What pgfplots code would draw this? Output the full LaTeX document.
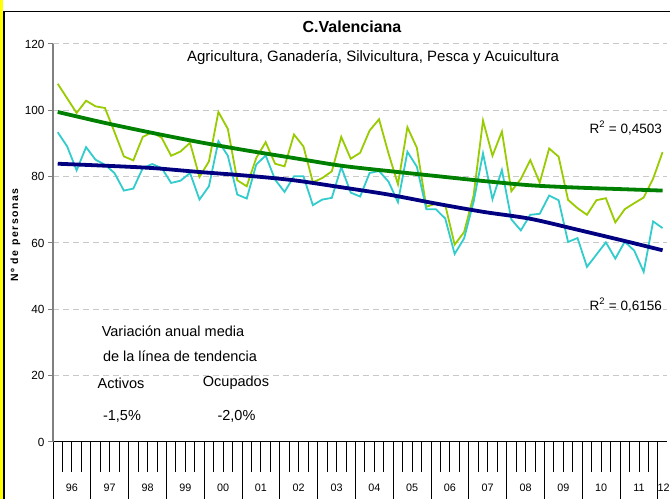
\documentclass[border=0pt]{standalone}
\usepackage{fontspec}
\setmainfont{Liberation Sans}
\usepackage{pgfplots}
\usepackage{pgfplotstable}
\pgfplotsset{compat=1.18}
\definecolor{activos}{RGB}{153,204,0}
\definecolor{ocupados}{RGB}{51,204,204}
\definecolor{trendA}{RGB}{0,128,0}
\definecolor{trendO}{RGB}{0,0,128}
\definecolor{gridc}{RGB}{200,200,200}
\definecolor{frameY}{RGB}{255,255,0}

\pgfplotstableread{
i a o
0 108.0 93.4
1 103.6 89.1
2 99.2 81.9
3 102.9 88.9
4 101.2 85.1
5 100.7 83.6
6 93.5 81.1
7 86.1 75.8
8 84.9 76.4
9 92.0 82.6
10 93.4 83.8
11 91.7 82.6
12 86.3 78.1
13 87.6 78.8
14 90.2 81.1
15 79.9 73.1
16 84.6 77.1
17 99.5 90.7
18 94.4 86.3
19 78.9 74.6
20 77.1 73.4
21 85.6 83.6
22 90.4 86.4
23 83.9 79.1
24 83.1 75.4
25 92.7 80.1
26 89.1 80.1
27 78.3 71.4
28 79.6 73.1
29 81.6 73.6
30 92.0 82.9
31 85.4 75.2
32 87.2 74.0
33 93.9 81.1
34 97.3 81.7
35 87.0 78.5
36 77.7 72.3
37 94.9 87.5
38 88.7 83.0
39 70.9 70.2
40 71.9 70.2
41 71.5 67.4
42 59.5 56.7
43 63.3 61.4
44 74.3 72.4
45 96.9 87.0
46 86.3 73.2
47 93.6 82.0
48 75.6 67.1
49 79.3 63.8
50 85.0 68.5
51 78.2 68.8
52 88.5 74.3
53 86.0 72.9
54 73.0 60.3
55 70.5 61.5
56 68.5 52.8
57 72.9 56.5
58 73.5 60.2
59 66.2 55.3
60 70.2 60.4
61 72.0 57.7
62 73.7 51.3
63 79.4 66.5
64 87.4 64.5
}\datatable

\pgfplotstableread{
i ta to
0 99.5 83.9
5 96.2 83.3
10 93.2 82.6
15 90.4 81.4
20 87.9 80.3
25 85.6 78.9
30 83.3 76.8
35 81.7 74.6
40 80.2 71.9
45 78.7 69.4
50 77.4 67.3
55 76.7 64.0
60 76.2 60.6
64 75.8 57.8
}\trendtable

\newcommand{\tickfont}{\fontsize{11.8bp}{13bp}\selectfont}
\newcommand{\yrfont}{\fontsize{10.8bp}{12bp}\selectfont}
\newcommand{\annfont}{\fontsize{14.5bp}{17bp}\selectfont}

\begin{document}
\begin{tikzpicture}[x=1bp,y=1bp]
\path[use as bounding box, clip] (0,0) rectangle (670,499);
\fill[white] (0,0) rectangle (670,499);
\fill[frameY] (0,0) rectangle (3,499);
\draw[black, line width=1.5bp] (3.75,-2) -- (3.75,487.3) -- (672,487.3);

\begin{axis}[
  scale only axis, width=614.3bp, height=398bp,
  at={(53bp,57bp)}, anchor=south west,
  xmin=-0.5, xmax=64.5, ymin=0, ymax=120,
  clip=false,
  axis lines=left, axis line style={-},
  x axis line style={black, line width=1bp},
  y axis line style={gray, line width=1.4bp},
  tick align=outside,
  ytick={0,20,...,120},
  y tick style={gray, line width=1bp},
  major tick length=5bp,
  minor tick length=30bp,
  xtick={-0.5,3.5,...,63.5},
  xticklabels={},
  minor x tick num=3,
  x tick style={black, line width=0.9bp},
  extra x ticks={-0.5,3.5,...,63.5},
  extra x tick labels={},
  extra x tick style={major tick length=60bp, tick style={black, line width=0.9bp}},
  ymajorgrids,
  grid style={gridc, dash pattern=on 6bp off 4bp, line width=1bp},
  tick label style={font=\tickfont},
  /pgf/number format/assume math mode=true,
]
\addplot[activos, line width=1.8bp] table[x=i, y=a] {\datatable};
\addplot[ocupados, line width=1.8bp] table[x=i, y=o] {\datatable};
\addplot[trendA, line width=3.8bp, smooth] table[x=i, y=ta] {\trendtable};
\addplot[trendO, line width=3.8bp, smooth] table[x=i, y=to] {\trendtable};

\node[font=\yrfont] at (axis cs:1.5,0) [yshift=-46bp] {96};
\node[font=\yrfont] at (axis cs:5.5,0) [yshift=-46bp] {97};
\node[font=\yrfont] at (axis cs:9.5,0) [yshift=-46bp] {98};
\node[font=\yrfont] at (axis cs:13.5,0) [yshift=-46bp] {99};
\node[font=\yrfont] at (axis cs:17.5,0) [yshift=-46bp] {00};
\node[font=\yrfont] at (axis cs:21.5,0) [yshift=-46bp] {01};
\node[font=\yrfont] at (axis cs:25.5,0) [yshift=-46bp] {02};
\node[font=\yrfont] at (axis cs:29.5,0) [yshift=-46bp] {03};
\node[font=\yrfont] at (axis cs:33.5,0) [yshift=-46bp] {04};
\node[font=\yrfont] at (axis cs:37.5,0) [yshift=-46bp] {05};
\node[font=\yrfont] at (axis cs:41.5,0) [yshift=-46bp] {06};
\node[font=\yrfont] at (axis cs:45.5,0) [yshift=-46bp] {07};
\node[font=\yrfont] at (axis cs:49.5,0) [yshift=-46bp] {08};
\node[font=\yrfont] at (axis cs:53.5,0) [yshift=-46bp] {09};
\node[font=\yrfont] at (axis cs:57.5,0) [yshift=-46bp] {10};
\node[font=\yrfont] at (axis cs:61.5,0) [yshift=-46bp] {11};
\node[font=\yrfont] at (axis cs:64.1,0) [yshift=-46bp] {12};
\end{axis}

\node[font=\bfseries\fontsize{16bp}{18bp}\selectfont] at (352,472) {C.Valenciana};
\node[font=\fontsize{15bp}{17bp}\selectfont] at (373,441) {Agricultura, Ganadería, Silvicultura, Pesca y Acuicultura};
\node[rotate=90, font=\bfseries\fontsize{10.5bp}{12bp}\selectfont\addfontfeature{LetterSpace=15}] at (15.5,264) {Nº de personas};

\node[font=\fontsize{13.5bp}{15bp}\selectfont, anchor=east, inner sep=0pt] at (662,371) {R\textsuperscript{2} = 0,4503};
\node[font=\fontsize{13.5bp}{15bp}\selectfont, anchor=east, inner sep=0pt] at (662,194) {R\textsuperscript{2} = 0,6156};

\node[font=\annfont] at (173,168) {Variación anual media};
\node[font=\annfont] at (180,143) {de la línea de tendencia};
\node[font=\annfont] at (121,116) {Activos};
\node[font=\annfont] at (236,116) {Ocupados};
\node[font=\annfont] at (122,83) {-1,5\%};
\node[font=\annfont] at (236.5,83) {-2,0\%};
\end{tikzpicture}
\end{document}
